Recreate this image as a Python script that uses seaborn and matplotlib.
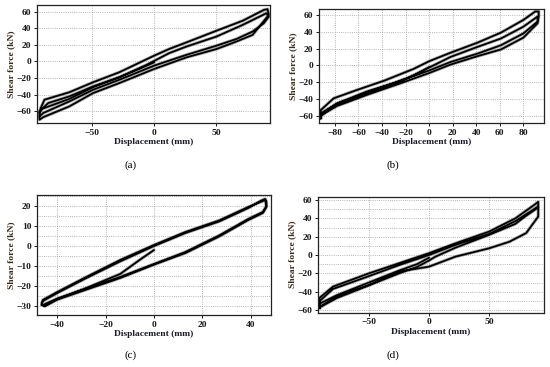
import numpy as np
import pandas as pd
import matplotlib
matplotlib.use("Agg")
import matplotlib.pyplot as plt
import seaborn as sns

# ---- data (displacement mm, shear force kN) ----
disp_a = [0, -12, -28, -49, -68, -90, -92,
          -91, -88, -68, -49, -28, 0, 12, 26, 50, 71, 88, 91,
          92, 79, 66, 50, 26, 0, -28, -49, -68, -89, -92, -92,
          -85, -68, -49, -28, -6, 12, 26, 50, 71, 90, 92,
          88, 79, 66, 50, 26, 0, -28, -49, -68, -89, -92]
force_a = [-1, -9, -19, -31, -45, -57, -62,
           -56, -46, -37, -25, -13, 7, 15, 23, 37, 49, 62, 63,
           56, 32, 24, 15, 5, -9, -26, -38, -54, -67, -70, -60,
           -50, -42, -30, -19, -4, 10, 18, 30, 44, 58, 54,
           46, 36, 27, 19, 8, -5, -22, -34, -48, -62, -66]

disp_b = [0, -13, -30, -53, -78, -92,
          -92, -81, -61, -38, -13, 0, 18, 41, 61, 80, 90, 93,
          93, 92, 80, 61, 41, 18, 0, -24, -53, -78, -92, -92,
          -92, -78, -53, -24, -5, 18, 41, 61, 80, 92,
          92, 80, 61, 41, 18, 0, -24, -53, -78, -92]
force_b = [-2, -12, -21, -31, -45, -57,
           -53, -39, -29, -18, -4, 5, 15, 27, 39, 54, 64, 64,
           58, 50, 33, 19, 11, 1, -9, -21, -35, -48, -59, -63,
           -58, -45, -33, -19, -6, 10, 22, 32, 46, 58,
           52, 38, 24, 14, 4, -6, -18, -32, -46, -60]

disp_c = [0, -6, -14, -28, -40, -45.5, -46.5,
          -46, -40, -28, -14, 0, 13, 27, 39, 44, 46, 46.5,
          46.5, 45, 39, 27, 13, 0, -14, -28, -40, -45, -46.5,
          -46, -40, -28, -14, 0, 13, 27, 39, 46, 46.5,
          45, 39, 27, 13, 0, -14, -28, -40, -46]
force_c = [-2, -7, -14, -21, -26.5, -30, -29,
           -27.5, -23.5, -16, -7.7, 0, 6.5, 12.3, 19, 22.5, 23.5, 22,
           19.5, 16.5, 13, 4.8, -3.5, -9.3, -16, -21.8, -26.8, -30, -29.5,
           -27, -23, -15.5, -7, 0.5, 7, 12.8, 19.5, 23, 20,
           17, 13.5, 5.3, -3, -9, -15.5, -21.3, -26.3, -29.5]

disp_d = [0, -10, -25, -50, -77, -91,
          -91.4, -80, -50, -25, 0, 22, 50, 72, 88, 91, 91,
          91, 81, 67, 50, 22, 0, -25, -50, -77, -91, -91, -91,
          -80, -50, -25, 0, 22, 50, 72, 91,
          91, 80, 72, 50, 22, 5, 0, -10, -25, -50, -77, -91]
force_d = [-3, -10, -17, -30, -44, -53,
           -47, -34.5, -20, -9, 2, 12.7, 25.5, 40, 55, 58, 56,
           42, 24, 14.5, 7.3, -1.8, -12.7, -18, -32.7, -45.5, -56.4, -58, -50,
           -37, -23, -11, 0, 11, 23, 37, 53,
           52, 42, 34, 22, 8, -2, -6, -13, -20, -33, -47, -57]

panel_letters = ["(a)", "(b)", "(c)", "(d)"]
xlabel = "Displacement (mm)"
ylabel = "Shear force (kN)"

sns.set_theme(style="ticks")
plt.rcParams["font.family"] = ["Liberation Serif", "DejaVu Serif"]

fig = plt.figure(figsize=(5.5, 3.67), dpi=100)

# axes rectangles (fig fractions), limits, ticks, grid step on y
panels = [
    dict(rect=[0.0673, 0.6649, 0.4236, 0.3215], x=disp_a, y=force_a,
         xlim=(-94, 93), ylim=(-74, 68), xt=[-50, 0, 50], yt=np.arange(-60, 61, 20), ygrid=20),
    dict(rect=[0.5800, 0.6649, 0.4091, 0.3106], x=disp_b, y=force_b,
         xlim=(-93.5, 97.5), ylim=(-68.3, 67), xt=np.arange(-80, 81, 20), yt=np.arange(-60, 61, 20), ygrid=20),
    dict(rect=[0.0673, 0.1417, 0.4255, 0.3270], x=disp_c, y=force_c,
         xlim=(-48.4, 48.4), ylim=(-34.5, 25.5), xt=np.arange(-40, 41, 20), yt=np.arange(-30, 21, 10), ygrid=5),
    dict(rect=[0.5776, 0.1480, 0.4115, 0.3160], x=disp_d, y=force_d,
         xlim=(-92.75, 95.8), ylim=(-62.9, 63.6), xt=[-50, 0, 50], yt=np.arange(-60, 61, 20), ygrid=10),
]
label_pos = [(0.238, 0.55), (0.715, 0.55), (0.238, 0.033), (0.715, 0.033)]

for p, letter, (lx, ly) in zip(panels, panel_letters, label_pos):
    ax = fig.add_axes(p["rect"])
    df = pd.DataFrame({"d": p["x"], "f": p["y"]})
    # grey fuzz under the black trace, stands in for the noisy record
    sns.lineplot(data=df, x="d", y="f", sort=False, estimator=None, ax=ax,
                 color="#6a6a6a", lw=2.4, alpha=0.55)
    sns.lineplot(data=df, x="d", y="f", sort=False, estimator=None, ax=ax,
                 color="black", lw=1.3)
    ax.set_xticks(p["xt"])
    ax.set_yticks(p["yt"])
    for gx in p["xt"]:
        ax.axvline(gx, color="#a0a0a0", lw=0.6, ls=(0, (1.0, 1.6)), zorder=0)
    gy = np.arange(p["yt"][0] - 3 * p["ygrid"], p["yt"][-1] + 3 * p["ygrid"] + 1, p["ygrid"])
    for v in gy:
        ax.axhline(v, color="#a0a0a0", lw=0.6, ls=(0, (1.0, 1.6)), zorder=0)
    ax.set_xlim(p["xlim"])
    ax.set_ylim(p["ylim"])
    for s in ax.spines.values():
        s.set_visible(True)
        s.set_color("#222222")
        s.set_linewidth(0.9)
    ax.tick_params(axis="both", labelsize=6.8, length=2.5, width=0.7, pad=1.5,
                   colors="#1a1a1a")
    for t in ax.get_xticklabels() + ax.get_yticklabels():
        t.set_fontweight("bold")
    ax.set_xlabel(xlabel, fontsize=6.8, fontweight="bold", color="#1a1a2a", labelpad=1)
    ax.set_ylabel(ylabel, fontsize=6.8, fontweight="bold", color="#3b2a1a", labelpad=1)
    fig.text(lx, ly, letter, fontsize=8, ha="center", va="center", color="black")

plt.savefig("out.png", dpi=100)
